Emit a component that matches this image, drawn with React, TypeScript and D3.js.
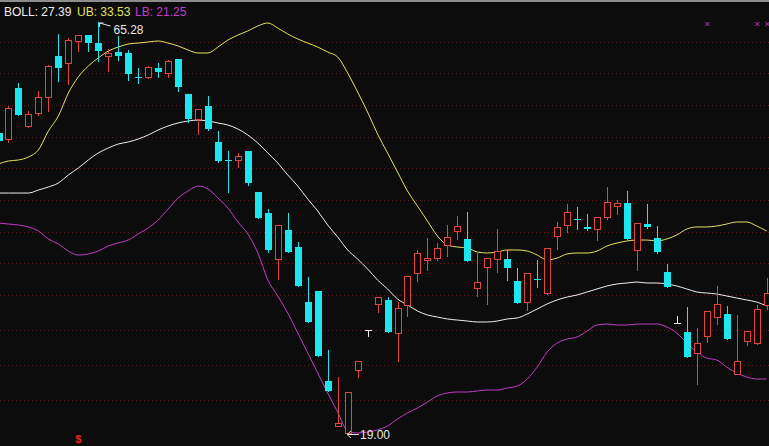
import React, { useEffect } from "react";
import * as d3 from "d3";

// ---- data (prices) ----
const open = [52.78,52.10,57.85,53.57,55.03,56.83,61.45,60.66,63.14,63.81,
  62.91,61.45,61.90,61.79,59.09,59.09,60.10,59.54,61.11,57.17,
  54.36,55.82,51.77,49.74,49.74,50.75,46.14,43.77,38.59,41.86,
  39.94,33.75,34.99,24.85,19.79,19.00,26.09,30.60,33.53,33.98,
  30.26,33.41,37.02,38.48,38.70,40.17,41.75,40.85,35.33,37.69,
  38.59,38.59,36.11,33.75,36.34,34.76,41.18,42.42,43.10,42.20,
  41.97,43.32,44.56,44.90,39.61,42.53,40.96,37.13,31.39,30.37,
  28.01,29.92,32.06,32.40,25.64,29.36,29.13,33.41];
const high = [53.00,55.82,58.41,55.26,57.51,60.44,63.93,63.48,63.81,63.81,
  65.28,62.24,63.70,62.13,60.10,60.32,60.66,61.00,61.11,57.17,
  55.48,56.95,53.00,50.75,50.53,50.75,46.14,44.22,42.42,43.77,
  40.51,36.57,34.99,28.35,25.31,23.62,27.11,30.60,34.31,34.31,
  33.75,36.68,39.61,40.96,40.39,42.42,43.43,43.88,39.27,38.70,
  41.97,39.61,37.58,37.02,38.48,39.83,42.76,44.79,44.45,43.66,
  43.32,46.70,45.24,46.25,42.65,44.79,42.31,38.03,32.17,33.19,
  30.82,32.74,35.55,33.30,32.29,30.48,33.41,36.45];
const low = [51.65,51.65,54.69,53.34,54.69,55.14,58.52,58.18,61.90,61.90,
  60.77,59.65,60.89,58.63,58.30,58.86,58.97,58.97,57.40,53.91,
  52.55,53.00,49.40,46.02,48.84,46.81,43.10,39.27,36.23,39.27,
  35.44,31.39,27.56,23.62,19.68,19.00,25.19,29.81,32.51,30.26,
  26.99,32.06,36.00,37.24,38.37,38.82,40.73,38.25,34.31,33.41,
  37.02,36.11,33.53,32.74,35.33,34.54,39.61,41.52,41.86,41.75,
  40.62,42.98,43.55,40.73,37.24,41.97,39.16,35.33,31.39,27.44,
  24.40,29.13,31.16,29.47,25.64,28.80,28.91,32.85];
const close = [51.88,55.59,54.81,54.92,56.83,60.32,60.10,63.25,63.81,62.91,
  62.01,61.79,61.45,59.42,58.97,60.21,59.65,60.89,57.96,54.36,
  55.48,53.23,49.63,49.63,50.19,47.15,43.21,39.61,42.42,39.38,
  35.55,31.50,27.67,23.73,20.13,23.62,27.11,30.60,34.31,30.37,
  33.07,36.68,39.27,38.70,39.83,41.07,42.31,38.37,36.00,38.70,
  39.49,37.58,33.64,37.02,36.23,39.83,42.20,43.88,42.98,41.97,
  43.32,45.01,44.90,40.85,42.65,42.20,39.38,35.44,31.39,27.56,
  29.13,32.74,33.53,29.58,27.11,30.48,32.96,34.76];

const ub = [49.29,49.63,49.74,50.08,50.87,53.00,54.69,57.28,59.09,60.32,
  61.23,62.01,62.46,62.80,62.91,63.03,63.14,62.91,62.58,62.13,
  61.79,61.79,62.46,63.25,63.81,64.27,64.83,65.17,64.60,63.93,
  63.37,62.91,62.46,61.90,61.34,59.54,57.40,55.14,52.67,50.53,
  48.39,46.25,44.56,42.87,41.18,40.17,39.94,39.83,39.38,39.27,
  39.38,39.61,39.61,39.49,39.04,38.48,38.70,39.16,39.27,39.27,
  39.49,40.06,40.39,40.62,40.73,40.73,40.62,40.85,41.30,41.97,
  42.20,42.20,42.31,42.53,42.76,42.76,42.31,41.75];
const mid = [46.02,46.02,46.02,46.02,46.36,46.70,47.15,48.05,48.84,49.74,
  50.53,51.09,51.54,51.77,52.10,52.55,53.12,53.57,53.91,54.13,
  54.24,54.13,53.91,53.68,53.23,52.55,51.65,50.53,49.40,48.05,
  46.81,45.35,44.00,42.42,41.07,39.61,38.59,37.47,36.23,35.22,
  34.09,33.41,32.74,32.29,32.06,31.84,31.72,31.61,31.50,31.50,
  31.61,31.84,31.95,32.40,32.96,33.53,33.98,34.31,34.54,34.88,
  35.22,35.55,35.78,35.89,36.00,35.89,35.89,35.78,35.55,35.22,
  34.88,34.76,34.65,34.43,34.20,33.98,33.75,33.30];
const lb = [42.65,42.53,42.42,42.20,41.75,40.85,40.28,39.49,39.04,39.16,
  39.49,40.06,40.39,40.73,41.41,42.08,42.98,44.22,45.46,46.25,
  46.81,46.47,45.46,44.33,42.76,41.41,39.27,36.23,34.43,32.51,
  30.26,28.01,25.76,23.50,21.36,19.23,19.00,19.11,19.34,19.79,
  20.58,21.25,21.82,22.49,23.17,23.50,23.62,23.62,23.73,23.84,
  23.84,24.07,24.29,25.08,26.43,28.12,29.13,29.58,29.81,30.48,
  31.16,31.27,31.16,31.16,31.27,31.27,31.27,30.94,30.26,29.13,
  28.12,27.44,27.22,26.43,25.76,25.31,25.08,25.08];

const gridLevels = [63.03,59.54,55.93,52.33,48.84,45.24,41.63,38.14,34.54,30.60,26.66,22.72];
const headerLabels = ["BOLL: 27.39", "UB: 33.53", "LB: 21.25"];
const dollarSignals = [8];
const crossSignals = [71, 76, 77];

// ---- style ----
const W = 769, H = 446;
const BG = "#0c0c0c";
const RED = "#e0463c";
const CYAN = "#1ee6ee";
const DOJI = "#e8e8e8";
const UBC = "#e6e25e";
const MIDC = "#eeeeee";
const LBC = "#c23ec4";
const GRID = "#5a1d1d";
const FONT = "'Liberation Sans', Arial, sans-serif";

export default function App() {
  useEffect(() => {
    document.body.style.margin = "0";
    document.body.style.background = BG;
  }, []);

  const x = d3.scaleLinear().domain([0, open.length - 1]).range([-1.5, 766.6]);
  const y = d3.scaleLinear().domain([19.0, 65.28]).range([433, 22]);

  const line = d3.line<number>().x((_, i) => x(i)).y((d) => y(d)).curve(d3.curveMonotoneX);

  const hi = d3.maxIndex(high);
  const lo = d3.minIndex(low);
  const hx = Math.round(x(hi)) + 0.5;
  const hy = Math.round(y(high[hi]));
  const lx = Math.round(x(lo));
  const ly = Math.round(y(low[lo]));

  const headerColors = [MIDC, UBC, LBC];
  const headerX = [4, 77, 135];

  return (
    <svg width={W} height={H} style={{ position: "absolute", left: 0, top: 0, display: "block" }}>
      <rect x={0} y={0} width={W} height={H} fill={BG} />
      <rect x={0} y={0} width={W} height={2} fill="#8c8c8c" />

      {gridLevels.map((g, i) => (
        <line key={"g" + i} x1={0} x2={W} y1={Math.round(y(g)) + 0.5} y2={Math.round(y(g)) + 0.5}
          stroke={GRID} strokeWidth={1} strokeDasharray="1 3" />
      ))}

      <path d={line(ub) || ""} fill="none" stroke={UBC} strokeWidth={1} />
      <path d={line(mid) || ""} fill="none" stroke={MIDC} strokeWidth={1} />
      <path d={line(lb) || ""} fill="none" stroke={LBC} strokeWidth={1} />

      {open.map((o, i) => {
        const c = close[i];
        const cx = Math.round(x(i));
        const yH = Math.round(y(high[i]));
        const yL = Math.round(y(low[i]));
        const yT = Math.round(y(Math.max(o, c)));
        const yB = Math.round(y(Math.min(o, c)));
        if (c > o) {
          return (
            <g key={i} stroke={RED} strokeWidth={1} shapeRendering="crispEdges">
              {yT > yH && <line x1={cx + 0.5} x2={cx + 0.5} y1={yH} y2={yT} />}
              {yL > yB && <line x1={cx + 0.5} x2={cx + 0.5} y1={yB} y2={yL} />}
              <rect x={cx - 3 + 0.5} y={yT + 0.5} width={6} height={Math.max(yB - yT, 1)} fill={BG} />
            </g>
          );
        } else if (c < o) {
          return (
            <g key={i} shapeRendering="crispEdges">
              <line x1={cx + 0.5} x2={cx + 0.5} y1={yH} y2={yL} stroke={CYAN} strokeWidth={1} />
              <rect x={cx - 3} y={yT} width={7} height={Math.max(yB - yT, 1)} fill={CYAN} />
            </g>
          );
        }
        return (
          <g key={i} stroke={DOJI} strokeWidth={1} shapeRendering="crispEdges">
            <line x1={cx + 0.5} x2={cx + 0.5} y1={yH} y2={yL} />
            <line x1={cx - 3} x2={cx + 4} y1={yT + 0.5} y2={yT + 0.5} />
          </g>
        );
      })}

      {/* high marker */}
      <g stroke="#e0e0e0" strokeWidth={1} fill="none">
        <line x1={hx + 1} y1={hy + 1} x2={hx + 12} y2={hy + 4} />
        <line x1={hx + 1} y1={hy + 1} x2={hx + 1} y2={hy + 5} />
        <line x1={hx + 1} y1={hy + 1} x2={hx + 5} y2={hy + 1} />
      </g>
      <text x={hx + 15} y={hy + 12} fill="#e6e6e6" fontFamily={FONT} fontSize={12}>
        {high[hi].toFixed(2)}
      </text>

      {/* low marker */}
      <g stroke="#e0e0e0" strokeWidth={1} fill="none">
        <line x1={lx - 1} y1={ly + 1.5} x2={lx + 11} y2={ly + 1.5} />
        <line x1={lx - 1} y1={ly + 1.5} x2={lx + 3} y2={ly - 2} />
        <line x1={lx - 1} y1={ly + 1.5} x2={lx + 3} y2={ly + 5} />
      </g>
      <text x={lx + 12} y={ly + 6} fill="#e6e6e6" fontFamily={FONT} fontSize={12}>
        {low[lo].toFixed(2)}
      </text>

      {/* header */}
      {headerLabels.map((t, i) => (
        <text key={"h" + i} x={headerX[i]} y={16} fill={headerColors[i]} fontFamily={FONT} fontSize={12}>
          {t}
        </text>
      ))}

      {/* signal markers */}
      {dollarSignals.map((s) => (
        <text key={"d" + s} x={x(s)} y={443} fill="#e02828" fontFamily={FONT} fontSize={11}
          fontWeight="bold" textAnchor="middle">$</text>
      ))}
      {crossSignals.map((s) => {
        const cx = Math.round(x(s)) + 0.5;
        return (
          <g key={"c" + s} stroke={LBC} strokeWidth={1}>
            <line x1={cx - 2} y1={22} x2={cx + 2} y2={26} />
            <line x1={cx + 2} y1={22} x2={cx - 2} y2={26} />
          </g>
        );
      })}
    </svg>
  );
}
